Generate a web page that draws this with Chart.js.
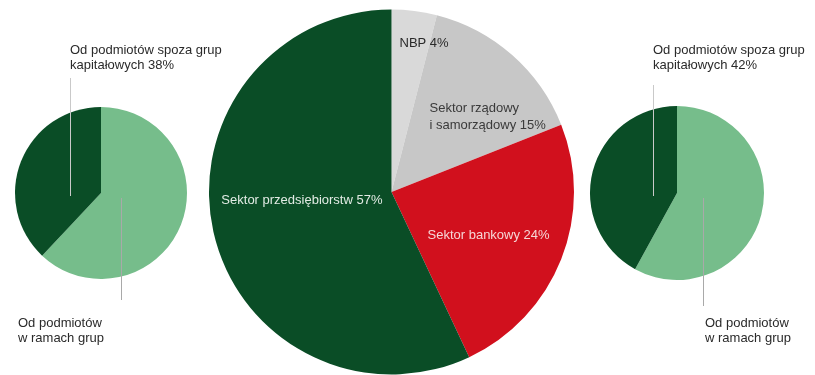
<!DOCTYPE html>
<html><head><meta charset="utf-8">
<script src="https://cdn.jsdelivr.net/npm/chart.js@4/dist/chart.umd.min.js"></script>
<style>
html,body{margin:0;padding:0;background:#fff;width:815px;height:375px;overflow:hidden}
canvas{position:absolute;left:0;top:0}
</style></head><body>
<canvas id="cMain" width="815" height="375"></canvas>
<canvas id="cLeft" width="815" height="375"></canvas>
<canvas id="cRight" width="815" height="375"></canvas>
<script>
// Data
const mainCategories = ["NBP", "Sektor rządowy i samorządowy", "Sektor bankowy", "Sektor przedsiębiorstw"];
const mainValues = [4, 15, 24, 57];
const leftCategories = ["Od podmiotów w ramach grup", "Od podmiotów spoza grup kapitałowych"];
const leftValues = [62, 38];
const rightCategories = ["Od podmiotów w ramach grup", "Od podmiotów spoza grup kapitałowych"];
const rightValues = [58, 42];

const FONT = "13px 'Liberation Sans', Arial, sans-serif";
const DARK = "#0a4d26", LIGHTG = "#76bd8b", RED = "#d1101d", GRAY1 = "#d9d9d9", GRAY2 = "#c7c7c7";

function textLines(ctx, lines, x, y, color, align, lh) {
  ctx.save(); ctx.font = FONT; ctx.fillStyle = color; ctx.textAlign = align || 'left'; ctx.textBaseline = 'middle';
  lines.forEach((l, i) => ctx.fillText(l, x, y + i * (lh || 15)));
  ctx.restore();
}
function vline(ctx, x, y1, y2, color) {
  ctx.save(); ctx.strokeStyle = color; ctx.lineWidth = 1; ctx.beginPath();
  ctx.moveTo(Math.round(x) + 0.5, y1); ctx.lineTo(Math.round(x) + 0.5, y2); ctx.stroke(); ctx.restore();
}

const mainLabels = {
  id: 'mainLabels',
  afterDraw(chart) {
    const a = chart.getDatasetMeta(0).data[0]; const cx = a.x, cy = a.y;
    const ctx = chart.ctx;
    textLines(ctx, [mainCategories[0] + " " + mainValues[0] + "%"], cx + 8, cy - 149, "#2a2a2a");
    textLines(ctx, ["Sektor rządowy", "i samorządowy " + mainValues[1] + "%"], cx + 38, cy - 84, "#3a3a3a", 'left', 17);
    textLines(ctx, [mainCategories[2] + " " + mainValues[2] + "%"], cx + 36, cy + 43, "#f6d6d6");
    textLines(ctx, [mainCategories[3] + " " + mainValues[3] + "%"], cx - 9, cy + 8, "#e2ebe4", 'right');
  }
};
function sideLabels(vals, upOff, downOff, topY, botY, topTextX, botTextX) {
  return {
    id: 'side',
    afterDraw(chart) {
      const a = chart.getDatasetMeta(0).data[0]; const cx = a.x, cy = a.y;
      const ctx = chart.ctx;
      vline(ctx, cx + upOff, topY, cy + 3, "#c9c9c9");
      vline(ctx, cx + downOff, cy + 5, botY, "#a9a9a9");
      textLines(ctx, ["Od podmiotów spoza grup", "kapitałowych " + vals[1] + "%"], topTextX, 50, "#2a2a2a");
      textLines(ctx, ["Od podmiotów", "w ramach grup"], botTextX, 323, "#2a2a2a");
    }
  };
}

Chart.defaults.font.family = "'Liberation Sans', Arial, sans-serif";
const common = (pad) => ({
  responsive: false, animation: false, devicePixelRatio: 1,
  layout: { padding: pad },
  plugins: { legend: { display: false }, tooltip: { enabled: false } },
  events: []
});

new Chart(document.getElementById('cMain'), {
  type: 'pie',
  data: { labels: mainCategories, datasets: [{ data: mainValues, backgroundColor: [GRAY1, GRAY2, RED, DARK], borderWidth: 0 }] },
  options: common({ left: 209, right: 241, top: 9, bottom: 0 }),
  plugins: [mainLabels]
});
new Chart(document.getElementById('cLeft'), {
  type: 'pie',
  data: { labels: leftCategories, datasets: [{ data: leftValues, backgroundColor: [LIGHTG, DARK], borderWidth: 0 }] },
  options: common({ left: 15, right: 628, top: 107, bottom: 96 }),
  plugins: [sideLabels(leftValues, -31, 20, 78, 300, 70, 18)]
});
new Chart(document.getElementById('cRight'), {
  type: 'pie',
  data: { labels: rightCategories, datasets: [{ data: rightValues, backgroundColor: [LIGHTG, DARK], borderWidth: 0 }] },
  options: common({ left: 590, right: 51, top: 106, bottom: 95 }),
  plugins: [sideLabels(rightValues, -24, 26, 85, 306, 653, 705)]
});
</script>
</body></html>
